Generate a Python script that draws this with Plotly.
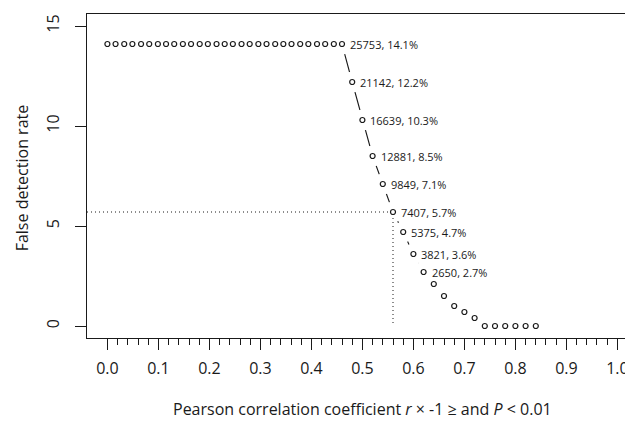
import plotly.graph_objects as go

# ---- data ----
r_thr = [0.0, 0.016, 0.033, 0.049, 0.066, 0.082, 0.099, 0.115, 0.131, 0.148,
         0.164, 0.181, 0.197, 0.214, 0.230, 0.246, 0.263, 0.279, 0.296, 0.312,
         0.329, 0.345, 0.361, 0.378, 0.394, 0.411, 0.427, 0.444, 0.46,
         0.48, 0.50, 0.52, 0.54, 0.56, 0.58, 0.60, 0.62, 0.64, 0.66, 0.68,
         0.70, 0.72, 0.74, 0.76, 0.78, 0.80, 0.82, 0.84]
fdr = [14.1] * 29 + [12.2, 10.3, 8.5, 7.1, 5.7, 4.7, 3.6, 2.7, 2.1, 1.5, 1.0,
                     0.7, 0.4, 0.0, 0.0, 0.0, 0.0, 0.0, 0.0]
lab_r = [0.46, 0.48, 0.50, 0.52, 0.54, 0.56, 0.58, 0.60, 0.62]
lab_n = [25753, 21142, 16639, 12881, 9849, 7407, 5375, 3821, 2650]
lab_p = [14.1, 12.2, 10.3, 8.5, 7.1, 5.7, 4.7, 3.6, 2.7]
cut_r, cut_p = 0.56, 5.7

x_major = [0.0, 0.1, 0.2, 0.3, 0.4, 0.5, 0.6, 0.7, 0.8, 0.9, 1.0]
x_major_txt = ["0.0", "0.1", "0.2", "0.3", "0.4", "0.5", "0.6", "0.7", "0.8", "0.9", "1.0"]
x_minor = [round(i * 0.02, 2) for i in range(51) if i % 5 != 0]
y_major = [0, 5, 10, 15]
y_major_txt = ["0", "5", "10", "15"]

X_RANGE = [-0.04, 1.0306]
Y_RANGE = [-0.6, 15.6]

FONT = "Open Sans"
INK = "#1a1a1a"

fig = go.Figure()

# connecting line (R type="b": line broken around points)
fig.add_trace(go.Scatter(x=r_thr, y=fdr, mode="lines",
                         line=dict(color=INK, width=1.1), hoverinfo="skip"))
# white masks creating the gaps around points
fig.add_trace(go.Scatter(x=r_thr, y=fdr, mode="markers",
                         marker=dict(size=21, color="white", line=dict(width=0)),
                         hoverinfo="skip"))
# dotted guide lines at the cut-off
fig.add_trace(go.Scatter(x=[X_RANGE[0], cut_r, cut_r], y=[cut_p, cut_p, 0],
                         mode="lines", line=dict(color=INK, width=1, dash="1px,3px"),
                         hoverinfo="skip"))
# points
fig.add_trace(go.Scatter(x=r_thr, y=fdr, mode="markers",
                         marker=dict(size=5, color="white", symbol="circle",
                                     line=dict(color=INK, width=1.2))))

for xr, n, p in zip(lab_r, lab_n, lab_p):
    fig.add_annotation(x=xr, y=p, xref="x", yref="y", text=f"{n}, {p}%",
                       showarrow=False, xanchor="left", yanchor="middle",
                       xshift=6, font=dict(family=FONT, size=11, color=INK))

# axis titles
fig.add_annotation(x=0.5, y=-0.22, xref="x", yref="paper",
                   text="Pearson correlation coefficient <i>r</i> \u00d7 -1 \u2265 and <i>P</i> < 0.01",
                   showarrow=False, xanchor="center", yanchor="middle",
                   font=dict(family=FONT, size=16, color=INK))
fig.add_annotation(x=-0.1196, y=0.495, xref="paper", yref="paper",
                   text="False detection rate", textangle=-90,
                   showarrow=False, xanchor="center", yanchor="middle",
                   font=dict(family=FONT, size=16, color=INK))

# page body has an 8px margin, so the figure is 8px smaller than the window
fig.update_layout(
    width=625, height=414,
    margin=dict(l=79, r=0, t=6, b=84, autoexpand=False),
    paper_bgcolor="white", plot_bgcolor="white",
    showlegend=False,
    font=dict(family=FONT, size=16, color=INK),
    xaxis=dict(range=X_RANGE, tickmode="array", tickvals=x_major, ticktext=x_major_txt,
               ticks="outside", ticklen=11, tickwidth=1, tickcolor=INK,
               showline=True, linecolor=INK, linewidth=1, mirror=True,
               showgrid=False, zeroline=False, ticklabelstandoff=5, automargin=False,
               tickfont=dict(family=FONT, size=16, color=INK),
               minor=dict(tickmode="array", tickvals=x_minor, ticks="outside",
                          ticklen=6, tickwidth=1, tickcolor=INK, showgrid=False)),
    yaxis=dict(range=Y_RANGE, tickmode="array", tickvals=y_major, ticktext=y_major_txt,
               ticks="outside", ticklen=11, tickwidth=1, tickcolor=INK,
               showline=True, linecolor=INK, linewidth=1, mirror=False,
               showgrid=False, zeroline=False, tickangle=-90, ticklabelstandoff=10,
               automargin=False,
               tickfont=dict(family=FONT, size=16, color=INK)),
)

fig.write_html("out.html")
